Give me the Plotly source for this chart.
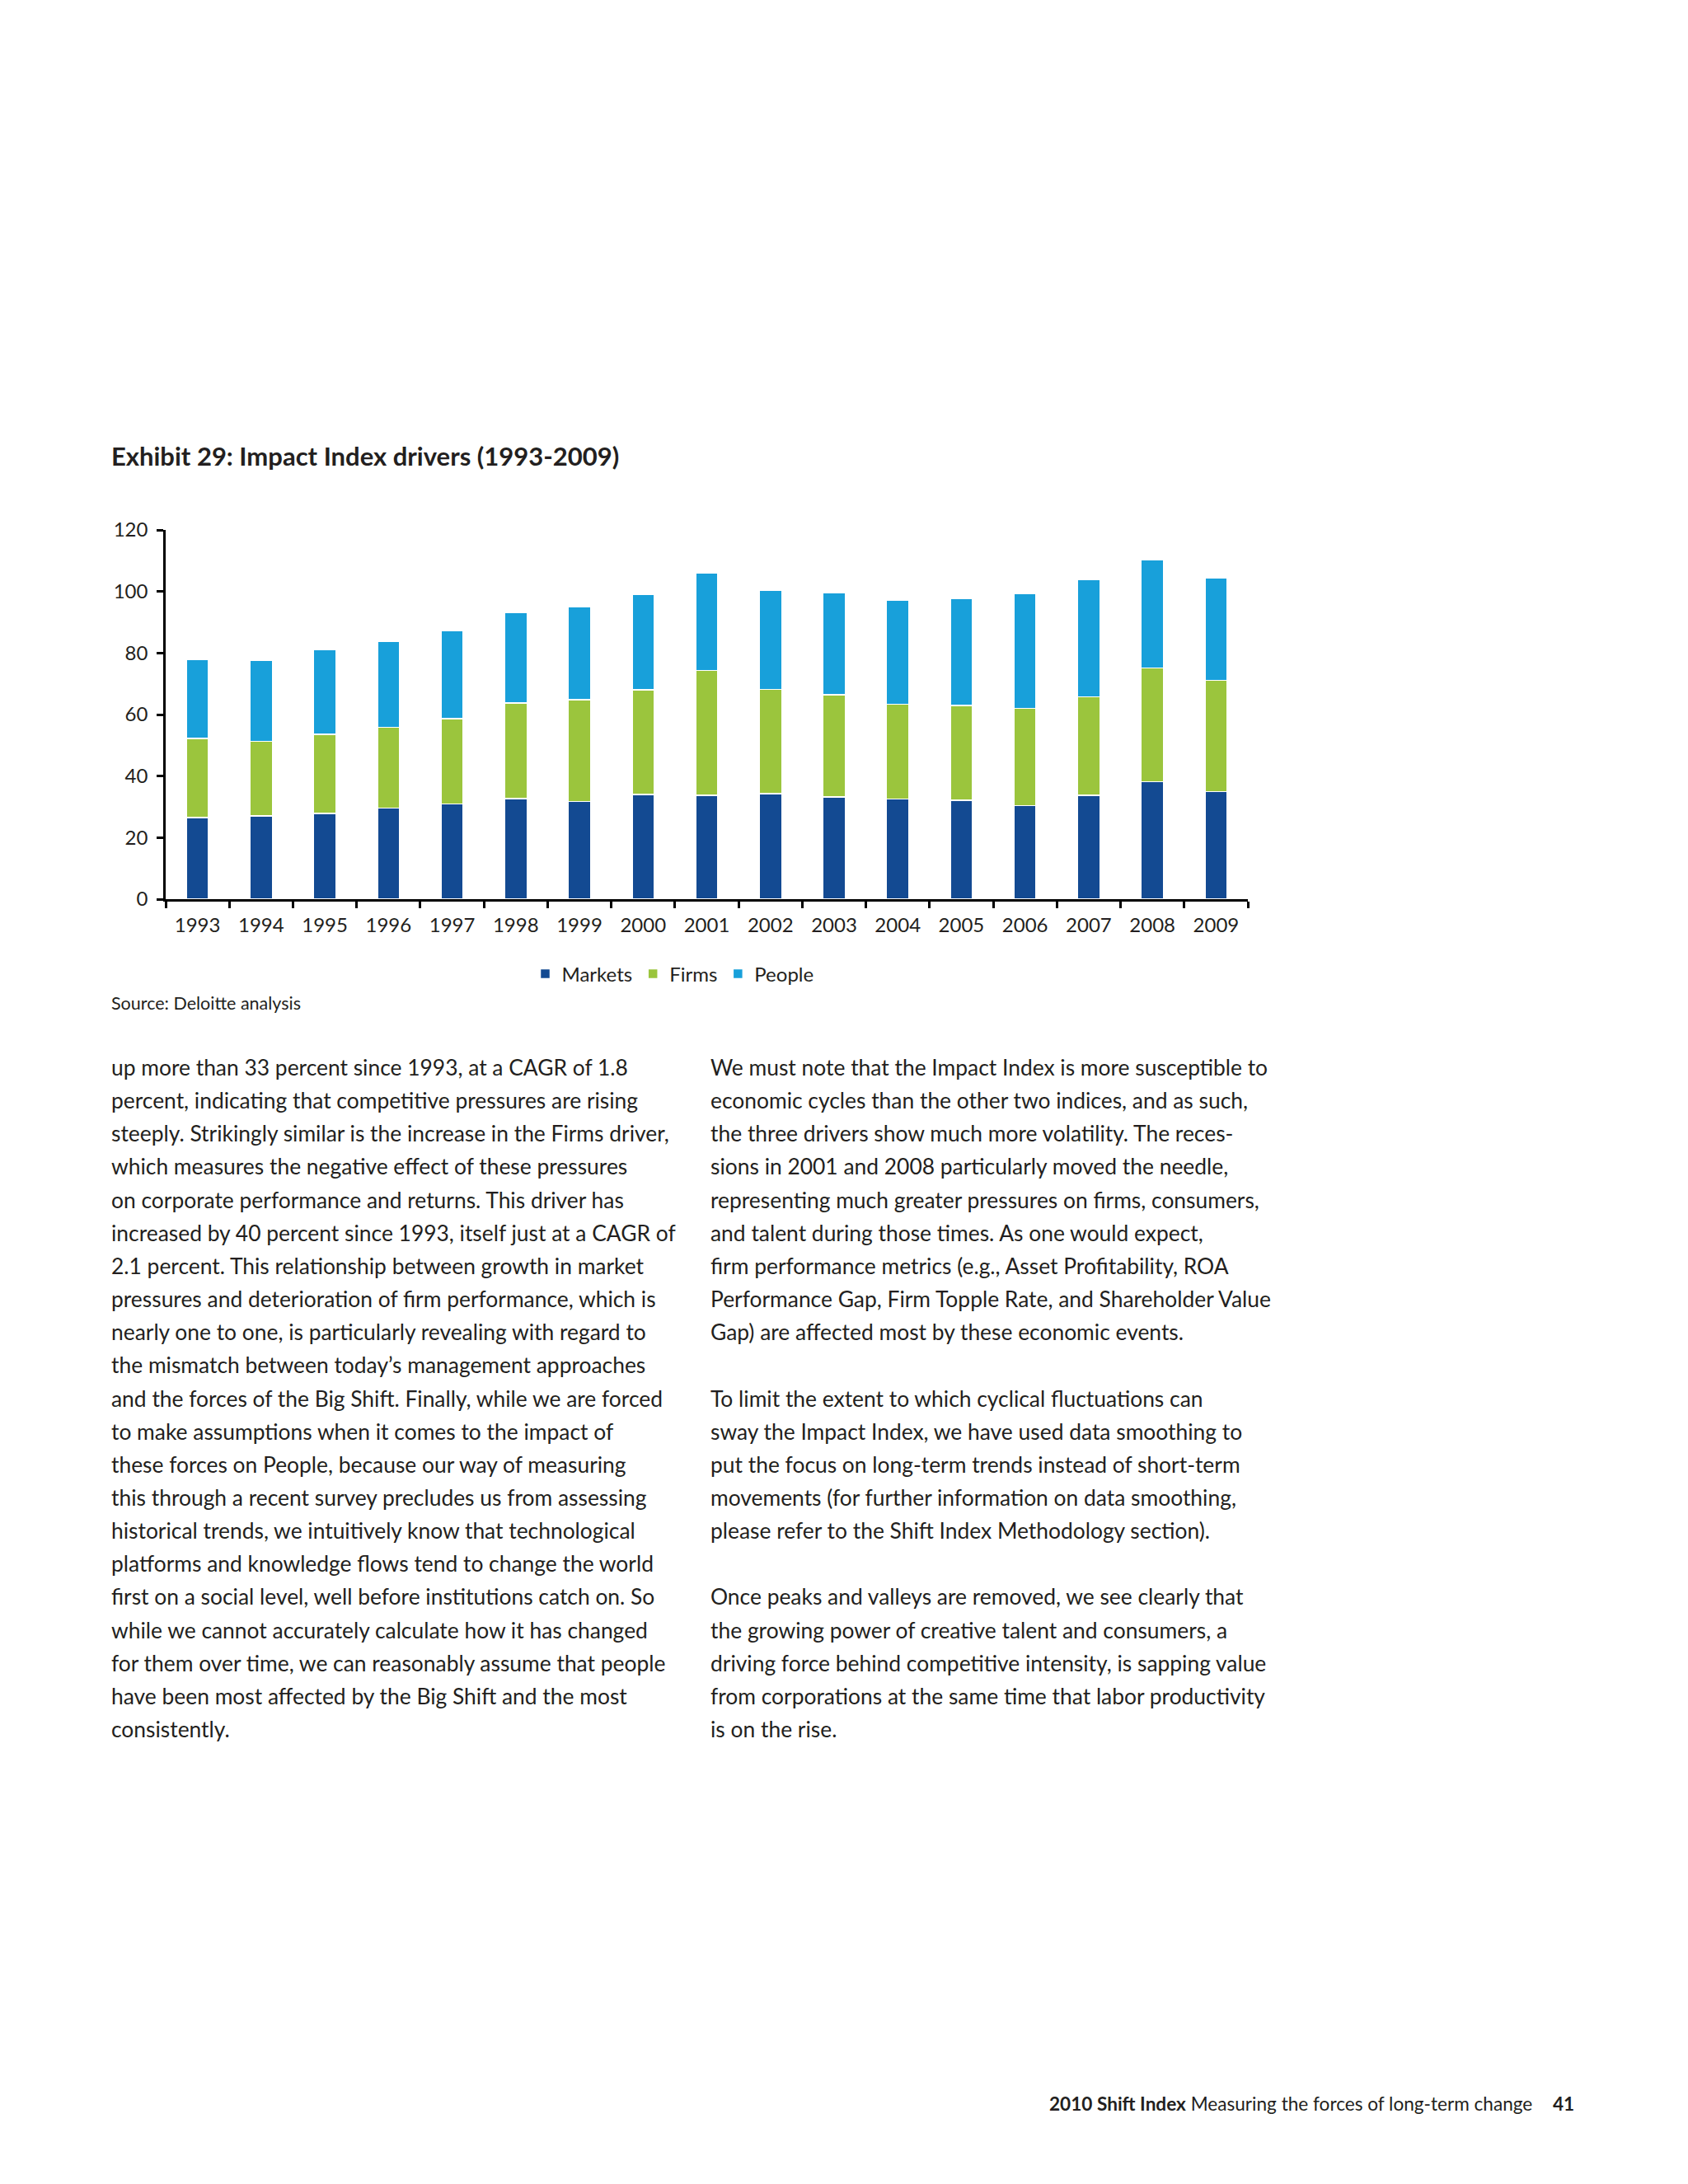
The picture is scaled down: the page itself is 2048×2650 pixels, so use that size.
import plotly.graph_objects as go

# ---- data ----
years = ["1993", "1994", "1995", "1996", "1997", "1998", "1999", "2000", "2001",
         "2002", "2003", "2004", "2005", "2006", "2007", "2008", "2009"]
markets = [26.5, 27.0, 27.8, 29.6, 30.9, 32.7, 31.8, 34.0, 33.8, 34.3, 33.2, 32.5, 32.1, 30.4, 33.8, 38.2, 34.9]
firms = [25.7, 24.3, 25.8, 26.2, 27.7, 31.1, 33.0, 34.1, 40.5, 33.9, 33.2, 30.8, 30.8, 31.6, 31.9, 37.0, 36.2]
people = [25.7, 26.4, 27.5, 27.9, 28.7, 29.3, 30.1, 30.9, 31.6, 32.3, 33.1, 33.9, 34.9, 37.4, 38.1, 35.2, 33.4]
y_ticks = [0, 20, 40, 60, 80, 100, 120]

title = "Exhibit 29: Impact Index drivers (1993-2009)"
source = "Source: Deloitte analysis"

left_col = [
    "up more than 33 percent since 1993, at a CAGR of 1.8",
    "percent, indicating that competitive pressures are rising",
    "steeply. Strikingly similar is the increase in the Firms driver,",
    "which measures the negative effect of these pressures",
    "on corporate performance and returns. This driver has",
    "increased by 40 percent since 1993, itself just at a CAGR of",
    "2.1 percent. This relationship between growth in market",
    "pressures and deterioration of firm performance, which is",
    "nearly one to one, is particularly revealing with regard to",
    "the mismatch between today\u2019s management approaches",
    "and the forces of the Big Shift. Finally, while we are forced",
    "to make assumptions when it comes to the impact of",
    "these forces on People, because our way of measuring",
    "this through a recent survey precludes us from assessing",
    "historical trends, we intuitively know that technological",
    "platforms and knowledge flows tend to change the world",
    "first on a social level, well before institutions catch on. So",
    "while we cannot accurately calculate how it has changed",
    "for them over time, we can reasonably assume that people",
    "have been most affected by the Big Shift and the most",
    "consistently.",
]
right_col = [
    "We must note that the Impact Index is more susceptible to",
    "economic cycles than the other two indices, and as such,",
    "the three drivers show much more volatility. The reces-",
    "sions in 2001 and 2008 particularly moved the needle,",
    "representing much greater pressures on firms, consumers,",
    "and talent during those times. As one would expect,",
    "firm performance metrics (e.g., Asset Profitability, ROA",
    "Performance Gap, Firm Topple Rate, and Shareholder Value",
    "Gap) are affected most by these economic events.",
    "",
    "To limit the extent to which cyclical fluctuations can",
    "sway the Impact Index, we have used data smoothing to",
    "put the focus on long-term trends instead of short-term",
    "movements (for further information on data smoothing,",
    "please refer to the Shift Index Methodology section).",
    "",
    "Once peaks and valleys are removed, we see clearly that",
    "the growing power of creative talent and consumers, a",
    "driving force behind competitive intensity, is sapping value",
    "from corporations at the same time that labor productivity",
    "is on the rise.",
]
footer_main = "<b>2010 Shift Index</b> Measuring the forces of long-term change"
footer_page = "<b>41</b>"

# ---- styling ----
FONT = "Lato"
TXT = "#231f20"
C_MARKETS = "#134a92"
C_FIRMS = "#9bc53d"
C_PEOPLE = "#18a0da"

OFF = 8  # page body margin of the html document
W, H = 2048, 2650
L, R_EDGE, TOP, BOT = 201 - OFF, 1514 - OFF, 643 - OFF, 1091 - OFF


def px(x):
    return (x - OFF - L) / (R_EDGE - L)


def py(y):
    return (BOT - (y - OFF)) / (BOT - TOP)


fig = go.Figure()
for name, vals, col in [("Markets", markets, C_MARKETS), ("Firms", firms, C_FIRMS), ("People", people, C_PEOPLE)]:
    fig.add_trace(go.Bar(
        x=years, y=vals, name=name,
        marker=dict(color=col, line=dict(color="white", width=1.5)),
    ))

annotations = []
annotations.append(dict(text="<b>" + title + "</b>", x=px(133), y=py(553), xref="paper", yref="paper",
                        xanchor="left", yanchor="middle", showarrow=False,
                        font=dict(family=FONT, size=31, color=TXT)))
annotations.append(dict(text=source, x=px(133), y=py(1217), xref="paper", yref="paper",
                        xanchor="left", yanchor="middle", showarrow=False,
                        font=dict(family=FONT, size=21.5, color=TXT)))

LINE0, STEP = 1295, 40.15
for i, line in enumerate(left_col):
    if line:
        annotations.append(dict(text=line, x=px(133), y=py(LINE0 + i * STEP), xref="paper", yref="paper",
                                xanchor="left", yanchor="middle", showarrow=False,
                                font=dict(family=FONT, size=26.4, color=TXT)))
for i, line in enumerate(right_col):
    if line:
        annotations.append(dict(text=line, x=px(860), y=py(LINE0 + i * STEP), xref="paper", yref="paper",
                                xanchor="left", yanchor="middle", showarrow=False,
                                font=dict(family=FONT, size=26.4, color=TXT)))

annotations.append(dict(text=footer_main, x=px(1861), y=py(2552), xref="paper", yref="paper",
                        xanchor="right", yanchor="middle", showarrow=False,
                        font=dict(family=FONT, size=22.6, color=TXT)))
annotations.append(dict(text=footer_page, x=px(1912), y=py(2552), xref="paper", yref="paper",
                        xanchor="right", yanchor="middle", showarrow=False,
                        font=dict(family=FONT, size=22.6, color=TXT)))

fig.update_layout(
    barmode="stack",
    bargap=0.65,
    width=W, height=H, autosize=False,
    margin=dict(l=L, r=W - R_EDGE, t=TOP, b=H - BOT, pad=0),
    paper_bgcolor="white", plot_bgcolor="white",
    font=dict(family=FONT, color=TXT),
    showlegend=True,
    legend=dict(orientation="h", x=px(817), y=py(1182), xanchor="center", yanchor="middle",
                font=dict(family=FONT, size=24, color=TXT), itemwidth=30,
                traceorder="normal", bgcolor="rgba(0,0,0,0)"),
    annotations=annotations,
    hovermode=False,
)
fig.update_xaxes(type="category", range=[-0.5, len(years) - 0.5], showline=True, linecolor="black",
                 linewidth=2.5, ticks="outside", tickson="boundaries", ticklen=8, tickwidth=2.5,
                 tickcolor="black", tickfont=dict(family=FONT, size=24, color=TXT),
                 ticklabelstandoff=8,
                 showgrid=False, zeroline=False, fixedrange=True)
fig.update_yaxes(range=[0, 120], tickvals=y_ticks, showline=True, linecolor="black", linewidth=2.5,
                 ticks="outside", ticklen=8, tickwidth=2.5, tickcolor="black",
                 tickfont=dict(family=FONT, size=24, color=TXT), ticklabelstandoff=6,
                 showgrid=False, zeroline=False, fixedrange=True)

fig.write_html("out.html", config={"displayModeBar": False})
